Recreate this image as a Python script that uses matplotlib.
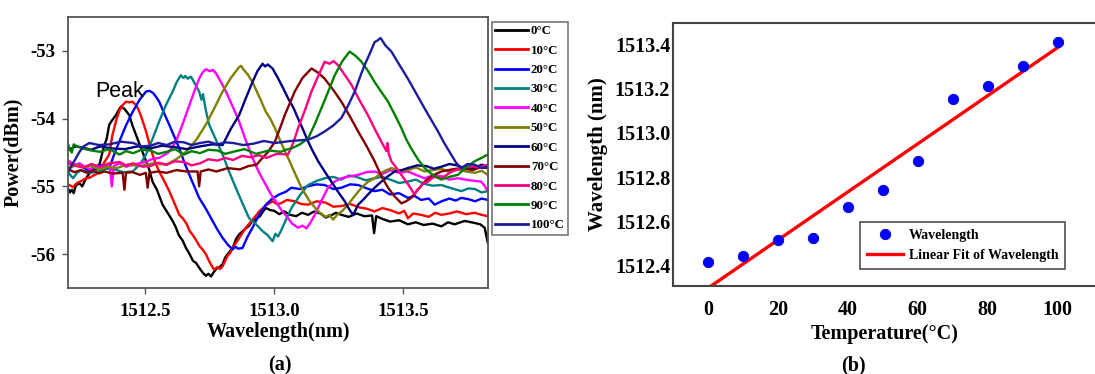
import matplotlib
import numpy as np

matplotlib.use("Agg")
import matplotlib.pyplot as plt

plt.rcParams["font.family"] = ["Liberation Serif", "DejaVu Serif"]
plt.rcParams["axes.unicode_minus"] = False

# (a) transmission spectra: (wavelength nm, power dBm)
spec_0c = [(1512.199, -55.02), (1512.207, -55.09), (1512.215, -55.05), (1512.222, -55.10),
           (1512.230, -54.99), (1512.244, -54.95), (1512.255, -55.00), (1512.270, -54.88),
           (1512.285, -54.80), (1512.298, -54.72), (1512.310, -54.75), (1512.322, -54.68),
           (1512.340, -54.40), (1512.350, -54.30), (1512.360, -54.09), (1512.372, -54.02),
           (1512.386, -53.95), (1512.396, -53.88), (1512.406, -53.82), (1512.420, -53.86),
           (1512.438, -53.95), (1512.450, -54.10), (1512.464, -54.24), (1512.480, -54.40),
           (1512.503, -54.63), (1512.515, -54.75), (1512.528, -54.93), (1512.545, -55.05),
           (1512.567, -55.27), (1512.585, -55.38), (1512.606, -55.51), (1512.618, -55.60),
           (1512.630, -55.72), (1512.645, -55.80), (1512.658, -55.91), (1512.672, -56.00),
           (1512.685, -56.10), (1512.697, -56.13), (1512.709, -56.20), (1512.722, -56.27),
           (1512.735, -56.32), (1512.745, -56.29), (1512.755, -56.33), (1512.765, -56.27),
           (1512.775, -56.22), (1512.788, -56.19), (1512.800, -56.15), (1512.810, -56.05),
           (1512.820, -56.00), (1512.830, -55.95), (1512.839, -55.91), (1512.852, -55.78),
           (1512.864, -55.71), (1512.878, -55.66), (1512.890, -55.62), (1512.903, -55.58),
           (1512.916, -55.51), (1512.930, -55.48), (1512.945, -55.44), (1512.955, -55.38),
           (1512.968, -55.32), (1512.985, -55.35), (1513.000, -55.36), (1513.020, -55.41),
           (1513.040, -55.37), (1513.062, -55.42), (1513.085, -55.44), (1513.108, -55.39),
           (1513.132, -55.42), (1513.155, -55.37), (1513.180, -55.40), (1513.200, -55.46),
           (1513.220, -55.43), (1513.240, -55.39), (1513.261, -55.42), (1513.290, -55.45),
           (1513.320, -55.40), (1513.350, -55.44), (1513.380, -55.43), (1513.388, -55.69),
           (1513.396, -55.44), (1513.420, -55.48), (1513.450, -55.52), (1513.485, -55.50),
           (1513.519, -55.56), (1513.550, -55.53), (1513.580, -55.57), (1513.615, -55.55),
           (1513.649, -55.59), (1513.675, -55.53), (1513.700, -55.56), (1513.740, -55.51),
           (1513.778, -55.54), (1513.800, -55.56), (1513.817, -55.61), (1513.829, -55.83)]

spec_10c = [(1512.205, -54.98), (1512.220, -55.01), (1512.235, -54.95), (1512.252, -54.92),
            (1512.270, -54.88), (1512.285, -54.87), (1512.298, -54.84), (1512.310, -54.82),
            (1512.322, -54.78), (1512.340, -54.65), (1512.360, -54.53), (1512.372, -54.25),
            (1512.386, -54.04), (1512.400, -53.88), (1512.412, -53.80), (1512.425, -53.75),
            (1512.438, -53.76), (1512.450, -53.75), (1512.464, -53.80), (1512.475, -53.88),
            (1512.485, -53.98), (1512.503, -54.19), (1512.515, -54.36), (1512.528, -54.53),
            (1512.540, -54.66), (1512.554, -54.78), (1512.572, -54.91), (1512.593, -55.07),
            (1512.612, -55.24), (1512.632, -55.42), (1512.645, -55.47), (1512.660, -55.55),
            (1512.672, -55.66), (1512.683, -55.71), (1512.698, -55.80), (1512.710, -55.88),
            (1512.722, -55.93), (1512.735, -56.00), (1512.750, -56.12), (1512.767, -56.23),
            (1512.780, -56.19), (1512.790, -56.22), (1512.800, -56.18), (1512.810, -56.10),
            (1512.820, -56.02), (1512.830, -55.98), (1512.839, -55.91), (1512.865, -55.76),
            (1512.890, -55.61), (1512.915, -55.50), (1512.942, -55.37), (1512.968, -55.28),
            (1512.994, -55.22), (1513.010, -55.26), (1513.026, -55.25), (1513.050, -55.20),
            (1513.080, -55.22), (1513.105, -55.26), (1513.132, -55.27), (1513.165, -55.22),
            (1513.200, -55.24), (1513.230, -55.30), (1513.261, -55.29), (1513.295, -55.26),
            (1513.330, -55.31), (1513.360, -55.33), (1513.390, -55.37), (1513.420, -55.32),
            (1513.450, -55.35), (1513.485, -55.40), (1513.505, -55.36), (1513.519, -55.47),
            (1513.540, -55.40), (1513.570, -55.42), (1513.600, -55.45), (1513.625, -55.39),
            (1513.649, -55.42), (1513.680, -55.40), (1513.710, -55.37), (1513.745, -55.41),
            (1513.778, -55.39), (1513.805, -55.42), (1513.829, -55.44)]

spec_20c = [(1512.205, -54.73), (1512.228, -54.68), (1512.250, -54.70), (1512.275, -54.76),
            (1512.300, -54.74), (1512.320, -54.68), (1512.340, -54.70), (1512.350, -54.74),
            (1512.360, -54.73), (1512.380, -54.52), (1512.399, -54.34), (1512.425, -54.10),
            (1512.451, -53.90), (1512.478, -53.72), (1512.503, -53.60), (1512.516, -53.59),
            (1512.530, -53.62), (1512.542, -53.68), (1512.554, -53.75), (1512.574, -53.93),
            (1512.593, -54.09), (1512.612, -54.26), (1512.632, -54.44), (1512.652, -54.65),
            (1512.671, -54.83), (1512.690, -55.00), (1512.709, -55.17), (1512.735, -55.33),
            (1512.761, -55.51), (1512.780, -55.64), (1512.800, -55.76), (1512.820, -55.86),
            (1512.839, -55.93), (1512.850, -55.89), (1512.860, -55.92), (1512.877, -55.91),
            (1512.896, -55.75), (1512.916, -55.61), (1512.940, -55.43), (1512.968, -55.27),
            (1512.993, -55.18), (1513.019, -55.12), (1513.045, -55.08), (1513.067, -55.02),
            (1513.100, -55.04), (1513.130, -55.00), (1513.165, -54.97), (1513.196, -54.98),
            (1513.230, -55.04), (1513.261, -55.02), (1513.295, -54.97), (1513.326, -54.98),
            (1513.360, -55.03), (1513.390, -55.07), (1513.420, -55.05), (1513.450, -55.12),
            (1513.485, -55.10), (1513.519, -55.17), (1513.545, -55.14), (1513.570, -55.20),
            (1513.600, -55.18), (1513.623, -55.27), (1513.650, -55.22), (1513.680, -55.18),
            (1513.705, -55.21), (1513.726, -55.17), (1513.755, -55.19), (1513.780, -55.22),
            (1513.805, -55.18), (1513.829, -55.20)]

spec_30c = [(1512.199, -54.78), (1512.210, -54.84), (1512.220, -54.88), (1512.235, -54.80),
            (1512.250, -54.76), (1512.285, -54.80), (1512.322, -54.78), (1512.350, -54.74),
            (1512.380, -54.75), (1512.415, -54.79), (1512.451, -54.78), (1512.478, -54.68),
            (1512.503, -54.53), (1512.530, -54.28), (1512.554, -54.04), (1512.580, -53.80),
            (1512.606, -53.60), (1512.622, -53.46), (1512.638, -53.36), (1512.648, -53.40),
            (1512.655, -53.37), (1512.665, -53.41), (1512.677, -53.38), (1512.692, -53.48),
            (1512.709, -53.60), (1512.718, -53.72), (1512.724, -53.64), (1512.735, -53.88),
            (1512.748, -54.09), (1512.775, -54.32), (1512.800, -54.53), (1512.825, -54.78),
            (1512.851, -55.02), (1512.877, -55.25), (1512.903, -55.47), (1512.930, -55.56),
            (1512.955, -55.66), (1512.975, -55.72), (1512.994, -55.81), (1513.005, -55.70),
            (1513.015, -55.74), (1513.026, -55.66), (1513.045, -55.50), (1513.067, -55.32),
            (1513.100, -55.13), (1513.132, -54.98), (1513.165, -54.92), (1513.196, -54.88),
            (1513.230, -54.86), (1513.260, -54.90), (1513.290, -54.84), (1513.320, -54.86),
            (1513.355, -54.91), (1513.390, -54.88), (1513.420, -54.86), (1513.450, -54.90),
            (1513.485, -54.95), (1513.519, -54.93), (1513.550, -54.90), (1513.580, -54.96),
            (1513.615, -54.99), (1513.649, -54.98), (1513.690, -55.03), (1513.726, -55.07),
            (1513.755, -55.03), (1513.780, -55.04), (1513.805, -55.09), (1513.829, -55.07)]

spec_40c = [(1512.205, -54.63), (1512.225, -54.68), (1512.245, -54.66), (1512.260, -54.70),
            (1512.285, -54.75), (1512.305, -54.70), (1512.322, -54.73), (1512.345, -54.68),
            (1512.362, -54.70), (1512.370, -55.00), (1512.378, -54.70), (1512.400, -54.66),
            (1512.425, -54.71), (1512.451, -54.68), (1512.475, -54.66), (1512.500, -54.64),
            (1512.525, -54.60), (1512.554, -54.58), (1512.590, -54.50), (1512.619, -54.34),
            (1512.645, -54.08), (1512.671, -53.80), (1512.690, -53.60), (1512.709, -53.41),
            (1512.722, -53.32), (1512.735, -53.27), (1512.750, -53.30), (1512.762, -53.28),
            (1512.774, -53.33), (1512.795, -53.47), (1512.813, -53.60), (1512.840, -53.83),
            (1512.864, -54.04), (1512.890, -54.32), (1512.916, -54.58), (1512.942, -54.80),
            (1512.968, -54.98), (1512.988, -55.12), (1513.006, -55.22), (1513.028, -55.35),
            (1513.048, -55.44), (1513.070, -55.55), (1513.093, -55.61), (1513.110, -55.58),
            (1513.125, -55.62), (1513.140, -55.54), (1513.158, -55.42), (1513.185, -55.20),
            (1513.209, -55.02), (1513.235, -54.93), (1513.261, -54.88), (1513.295, -54.85),
            (1513.326, -54.83), (1513.358, -54.79), (1513.390, -54.78), (1513.420, -54.82),
            (1513.450, -54.76), (1513.485, -54.80), (1513.519, -54.78), (1513.550, -54.83),
            (1513.584, -54.88), (1513.615, -54.84), (1513.650, -54.85), (1513.680, -54.90),
            (1513.713, -54.88), (1513.760, -54.91), (1513.803, -54.93), (1513.815, -54.98),
            (1513.829, -55.07)]

spec_50c = [(1512.205, -54.73), (1512.235, -54.68), (1512.260, -54.72), (1512.290, -54.70),
            (1512.320, -54.75), (1512.355, -54.71), (1512.389, -54.73), (1512.430, -54.68),
            (1512.480, -54.70), (1512.530, -54.66), (1512.580, -54.68), (1512.620, -54.60),
            (1512.658, -54.49), (1512.700, -54.30), (1512.735, -54.09), (1512.770, -53.83),
            (1512.800, -53.60), (1512.832, -53.40), (1512.864, -53.24), (1512.872, -53.22),
            (1512.880, -53.27), (1512.898, -53.35), (1512.916, -53.46), (1512.945, -53.70),
            (1512.968, -53.90), (1512.985, -54.00), (1513.003, -54.14), (1513.030, -54.38),
            (1513.054, -54.58), (1513.080, -54.80), (1513.106, -55.02), (1513.138, -55.22),
            (1513.171, -55.37), (1513.200, -55.45), (1513.215, -55.42), (1513.229, -55.49),
            (1513.245, -55.42), (1513.265, -55.36), (1513.287, -55.27), (1513.313, -55.14),
            (1513.339, -55.02), (1513.365, -54.93), (1513.390, -54.88), (1513.420, -54.79),
            (1513.455, -54.73), (1513.490, -54.77), (1513.520, -54.76), (1513.550, -54.72),
            (1513.584, -54.78), (1513.615, -54.76), (1513.650, -54.74), (1513.680, -54.79),
            (1513.713, -54.75), (1513.745, -54.78), (1513.780, -54.80), (1513.805, -54.77),
            (1513.829, -54.83)]

spec_60c = [(1512.202, -54.46), (1512.230, -54.41), (1512.260, -54.43), (1512.290, -54.46),
            (1512.324, -54.41), (1512.370, -54.44), (1512.420, -54.45), (1512.470, -54.41),
            (1512.518, -54.44), (1512.565, -54.40), (1512.612, -54.42), (1512.660, -54.45),
            (1512.712, -54.41), (1512.760, -54.38), (1512.800, -54.39), (1512.832, -54.15),
            (1512.864, -53.95), (1512.890, -53.70), (1512.916, -53.46), (1512.935, -53.30),
            (1512.955, -53.19), (1512.965, -53.23), (1512.975, -53.20), (1512.994, -53.26),
            (1513.016, -53.41), (1513.035, -53.55), (1513.054, -53.70), (1513.075, -53.84),
            (1513.093, -54.00), (1513.112, -54.16), (1513.132, -54.34), (1513.150, -54.48),
            (1513.171, -54.63), (1513.196, -54.78), (1513.222, -54.93), (1513.248, -55.08),
            (1513.274, -55.22), (1513.290, -55.33), (1513.306, -55.42), (1513.316, -55.35),
            (1513.326, -55.27), (1513.345, -55.20), (1513.364, -55.12), (1513.390, -55.02),
            (1513.416, -54.93), (1513.442, -54.85), (1513.468, -54.78), (1513.495, -54.76),
            (1513.519, -54.73), (1513.555, -54.69), (1513.590, -54.70), (1513.620, -54.74),
            (1513.649, -54.71), (1513.680, -54.67), (1513.710, -54.69), (1513.745, -54.74),
            (1513.778, -54.73), (1513.805, -54.68), (1513.829, -54.71)]

spec_70c = [(1512.202, -54.75), (1512.225, -54.79), (1512.250, -54.76), (1512.273, -54.80),
            (1512.300, -54.77), (1512.320, -54.81), (1512.340, -54.78), (1512.375, -54.81),
            (1512.412, -54.80), (1512.419, -55.05), (1512.425, -54.80), (1512.450, -54.79),
            (1512.479, -54.83), (1512.502, -54.80), (1512.509, -55.02), (1512.516, -54.80),
            (1512.550, -54.78), (1512.583, -54.80), (1512.620, -54.76), (1512.660, -54.78),
            (1512.703, -54.78), (1512.709, -55.00), (1512.715, -54.78), (1512.745, -54.75),
            (1512.776, -54.78), (1512.820, -54.73), (1512.867, -54.75), (1512.900, -54.70),
            (1512.932, -54.68), (1512.950, -54.60), (1512.975, -54.50), (1513.003, -54.34),
            (1513.022, -54.15), (1513.041, -53.95), (1513.060, -53.78), (1513.080, -53.60),
            (1513.110, -53.40), (1513.145, -53.26), (1513.170, -53.32), (1513.196, -53.41),
            (1513.230, -53.58), (1513.261, -53.75), (1513.293, -53.96), (1513.326, -54.19),
            (1513.358, -54.40), (1513.390, -54.63), (1513.415, -54.84), (1513.442, -55.02),
            (1513.468, -55.15), (1513.494, -55.25), (1513.512, -55.22), (1513.532, -55.17),
            (1513.558, -55.05), (1513.584, -54.93), (1513.615, -54.84), (1513.649, -54.78),
            (1513.690, -54.75), (1513.726, -54.73), (1513.770, -54.76), (1513.800, -54.72),
            (1513.829, -54.73)]

spec_80c = [(1512.202, -54.66), (1512.230, -54.70), (1512.260, -54.72), (1512.290, -54.67),
            (1512.324, -54.71), (1512.360, -54.66), (1512.400, -54.64), (1512.425, -54.69),
            (1512.453, -54.66), (1512.490, -54.71), (1512.520, -54.70), (1512.550, -54.65),
            (1512.583, -54.68), (1512.615, -54.63), (1512.650, -54.64), (1512.680, -54.69),
            (1512.712, -54.66), (1512.745, -54.60), (1512.780, -54.62), (1512.810, -54.58),
            (1512.841, -54.61), (1512.875, -54.55), (1512.910, -54.57), (1512.940, -54.54),
            (1512.970, -54.58), (1513.010, -54.52), (1513.054, -54.53), (1513.075, -54.35),
            (1513.093, -54.14), (1513.120, -53.87), (1513.145, -53.60), (1513.170, -53.38),
            (1513.196, -53.16), (1513.215, -53.19), (1513.230, -53.15), (1513.248, -53.21),
            (1513.275, -53.36), (1513.300, -53.50), (1513.330, -53.72), (1513.364, -53.95),
            (1513.390, -54.15), (1513.416, -54.34), (1513.436, -54.48), (1513.440, -54.36),
            (1513.445, -54.52), (1513.455, -54.63), (1513.475, -54.73), (1513.494, -54.83),
            (1513.520, -54.97), (1513.545, -55.12), (1513.555, -55.05), (1513.565, -55.02),
            (1513.580, -54.95), (1513.597, -54.93), (1513.620, -54.86), (1513.649, -54.88),
            (1513.690, -54.78), (1513.726, -54.73), (1513.760, -54.70), (1513.795, -54.72),
            (1513.829, -54.68)]

spec_90c = [(1512.199, -54.36), (1512.207, -54.46), (1512.215, -54.50), (1512.222, -54.38),
            (1512.230, -54.40), (1512.257, -54.44), (1512.290, -54.47), (1512.324, -54.49),
            (1512.360, -54.45), (1512.400, -54.53), (1512.425, -54.48), (1512.453, -54.51),
            (1512.485, -54.46), (1512.520, -54.47), (1512.550, -54.52), (1512.583, -54.49),
            (1512.615, -54.45), (1512.650, -54.53), (1512.680, -54.48), (1512.712, -54.51),
            (1512.745, -54.46), (1512.780, -54.47), (1512.810, -54.52), (1512.841, -54.49),
            (1512.885, -54.45), (1512.930, -54.52), (1512.980, -54.47), (1513.026, -54.49),
            (1513.045, -54.46), (1513.067, -54.44), (1513.100, -54.38), (1513.132, -54.29),
            (1513.158, -54.08), (1513.183, -53.85), (1513.210, -53.60), (1513.235, -53.36),
            (1513.265, -53.15), (1513.293, -53.01), (1513.315, -53.07), (1513.339, -53.16),
            (1513.365, -53.30), (1513.390, -53.46), (1513.415, -53.60), (1513.442, -53.75),
            (1513.468, -53.94), (1513.494, -54.14), (1513.512, -54.30), (1513.532, -54.44),
            (1513.558, -54.60), (1513.584, -54.73), (1513.615, -54.83), (1513.649, -54.90),
            (1513.680, -54.86), (1513.713, -54.83), (1513.745, -54.72), (1513.778, -54.63),
            (1513.805, -54.58), (1513.829, -54.53)]

spec_100c = [(1512.199, -54.80), (1512.212, -54.70), (1512.227, -54.61), (1512.243, -54.50),
             (1512.260, -54.41), (1512.283, -54.36), (1512.320, -54.39), (1512.360, -54.38),
             (1512.405, -54.34), (1512.453, -54.36), (1512.485, -54.41), (1512.520, -54.40),
             (1512.550, -54.36), (1512.583, -54.39), (1512.615, -54.34), (1512.650, -54.35),
             (1512.680, -54.39), (1512.712, -54.36), (1512.745, -54.34), (1512.780, -54.38),
             (1512.810, -54.35), (1512.841, -54.36), (1512.880, -54.39), (1512.920, -54.37),
             (1512.960, -54.33), (1513.003, -54.36), (1513.065, -54.33), (1513.132, -54.31),
             (1513.165, -54.26), (1513.196, -54.19), (1513.230, -54.10), (1513.261, -53.99),
             (1513.288, -53.80), (1513.313, -53.60), (1513.332, -53.40), (1513.351, -53.21),
             (1513.370, -53.05), (1513.390, -52.87), (1513.400, -52.85), (1513.413, -52.81),
             (1513.432, -52.92), (1513.455, -53.01), (1513.485, -53.20), (1513.519, -53.41),
             (1513.550, -53.62), (1513.584, -53.85), (1513.610, -54.02), (1513.636, -54.19),
             (1513.660, -54.36), (1513.687, -54.53), (1513.706, -54.65), (1513.726, -54.73),
             (1513.750, -54.67), (1513.778, -54.68), (1513.805, -54.73), (1513.829, -54.71)]

spectra = [spec_0c, spec_10c, spec_20c, spec_30c, spec_40c, spec_50c,
           spec_60c, spec_70c, spec_80c, spec_90c, spec_100c]
spec_labels = ["0°C", "10°C", "20°C", "30°C", "40°C", "50°C",
               "60°C", "70°C", "80°C", "90°C", "100°C"]
spec_colors = ["#000000", "#ff0000", "#0000ff", "#008080", "#ff00ff", "#808000",
               "#000080", "#800000", "#ff0080", "#008000", "#1c1c9c"]

# (b) peak wavelength vs temperature
temp_c = [0, 10, 20, 30, 40, 50, 60, 70, 80, 90, 100]
peak_nm = [1512.415, 1512.445, 1512.516, 1512.526, 1512.663, 1512.743,
           1512.873, 1513.153, 1513.212, 1513.302, 1513.409]

W, H = 1095, 374
fig = plt.figure(figsize=(W / 100, H / 100), dpi=100)

# ---- panel (a)
ax1 = fig.add_axes([68 / W, 1 - 288 / H, 420 / W, 271 / H])
for pts, lab, col in zip(spectra, spec_labels, spec_colors):
    xs = [p[0] for p in pts]
    ys = [p[1] for p in pts]
    ax1.plot(xs, ys, color=col, lw=1.7, label=lab)
ax1.set_xlim(1512.2, 1513.83)
ax1.set_ylim(-56.5, -52.5)
ax1.set_xticks([1512.5, 1513.0, 1513.5])
ax1.set_xticklabels(["1512.5", "1513.0", "1513.5"])
ax1.set_yticks([-53, -54, -55, -56])
ax1.tick_params(axis="both", direction="out", length=4, width=1, color="#555555",
                labelsize=13.5)
ax1.tick_params(axis="x", pad=7)
ax1.tick_params(axis="y", pad=5)
for lab in ax1.get_xticklabels() + ax1.get_yticklabels():
    lab.set_fontweight("bold")
for sp in ax1.spines.values():
    sp.set_color("#555555")
    sp.set_linewidth(1.3)
ax1.set_xlabel("Wavelength(nm)", fontsize=14.5, fontweight="bold", labelpad=1)
ax1.set_ylabel("Power(dBm)", fontsize=14.5, fontweight="bold", labelpad=5)
ax1.text(1512.305, -53.68, "Peak", family=["Liberation Sans", "DejaVu Sans"],
         fontsize=15.5, va="baseline", ha="left")
leg1 = ax1.legend(loc="upper left", bbox_to_anchor=(1.01, 0.9815), borderaxespad=0,
                  handlelength=2.5, handletextpad=0.25, labelspacing=0.57,
                  borderpad=0.25, frameon=True, fancybox=False,
                  prop={"weight": "bold", "size": 9.3})
leg1.get_frame().set_edgecolor("#555555")
leg1.get_frame().set_linewidth(1.2)
for ln in leg1.get_lines():
    ln.set_linewidth(2.0)

# ---- panel (b)
ax2 = fig.add_axes([673 / W, 1 - 286 / H, 423 / W, 263 / H])
ax2.plot(temp_c, peak_nm, "o", color="#0000ff", markersize=7.5,
         markeredgecolor="#0000cc", markeredgewidth=0.6, label="Wavelength", zorder=3)
slope, icpt = np.polyfit(temp_c, peak_nm, 1)
fit_x = np.array([temp_c[0], temp_c[-1]])
ax2.plot(fit_x, slope * fit_x + icpt, color="#ff0000", lw=2.4,
         label="Linear Fit of Wavelength", zorder=2)
ax2.set_xlim(-10, 111)
ax2.set_ylim(1512.308, 1513.496)
ax2.set_xticks([0, 20, 40, 60, 80, 100])
ax2.set_yticks([1512.4, 1512.6, 1512.8, 1513.0, 1513.2, 1513.4])
ax2.set_yticklabels(["1512.4", "1512.6", "1512.8", "1513.0", "1513.2", "1513.4"])
ax2.tick_params(axis="both", length=0, labelsize=14.5)
ax2.tick_params(axis="x", pad=10)
ax2.tick_params(axis="y", pad=2)
for lab in ax2.get_xticklabels() + ax2.get_yticklabels():
    lab.set_fontweight("bold")
for sp in ax2.spines.values():
    sp.set_color("#444444")
    sp.set_linewidth(1.5)
ax2.spines["right"].set_visible(False)
ax2.set_xlabel("Temperature(°C)", fontsize=14.5, fontweight="bold", labelpad=3)
ax2.set_ylabel("Wavelength (nm)", fontsize=15, fontweight="bold", labelpad=5)
leg2 = ax2.legend(loc="lower left", bbox_to_anchor=(0.442, 0.065), borderaxespad=0,
                  handlelength=2.6, handletextpad=0.4, labelspacing=0.5, borderpad=0.5,
                  frameon=True, fancybox=False, prop={"weight": "bold", "size": 10})
leg2.get_frame().set_edgecolor("#222222")
leg2.get_frame().set_linewidth(1.2)

fig.text(280 / W, 1 - 365 / H, "(a)", fontsize=14.5, ha="center", va="center",
         fontweight="bold")
fig.text(853 / W, 1 - 365 / H, "(b)", fontsize=14.5, ha="center", va="center",
         fontweight="bold")

fig.savefig("out.png", dpi=100)
